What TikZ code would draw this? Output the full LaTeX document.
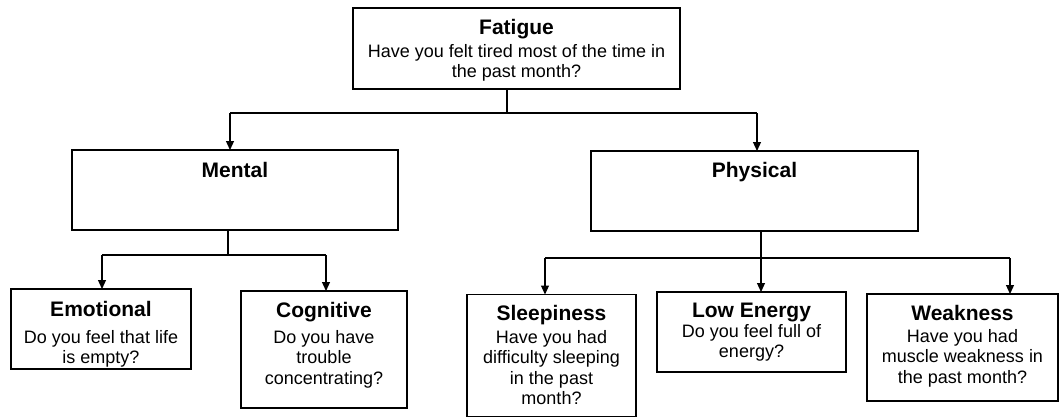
\documentclass[tikz,border=0pt]{standalone}
\usepackage{fontspec}
\setmainfont{Liberation Sans}
\usetikzlibrary{arrows.meta}
\begin{document}
\begin{tikzpicture}[x=1pt,y=-1pt,
  box/.style={draw=black, line width=1.6pt, inner sep=0pt, outer sep=0pt, fill=white},
  ttl/.style={anchor=base, inner sep=0pt, font=\fontsize{21}{24}\selectfont\bfseries},
  bdy/.style={anchor=base, inner sep=0pt, align=center, font=\fontsize{18}{20.5}\selectfont},
  con/.style={line width=1.2pt},
  arr/.style={con, -{Triangle[length=9pt,width=8pt]}}]
\useasboundingbox (0,0) rectangle (1060,418);
% boxes
\node[box, minimum width=327pt, minimum height=81pt] (fat) at (516.5,48.5) {};
\node[box, minimum width=326pt, minimum height=80pt] (men) at (235,190) {};
\node[box, minimum width=327pt, minimum height=80pt] (phy) at (754.5,191) {};
\node[box, minimum width=180pt, minimum height=80pt] (emo) at (101,329) {};
\node[box, minimum width=166pt, minimum height=117pt] (cog) at (324,349.5) {};
\node[box, minimum width=169pt, minimum height=122pt] (slp) at (551.5,355.5) {};
\node[box, minimum width=189pt, minimum height=80pt] (low) at (751.5,332) {};
\node[box, minimum width=191pt, minimum height=107pt] (wea) at (962.5,347.5) {};
% titles
\node[ttl] (fatT) at (516.5,34) {Fatigue};
\node[ttl] (menT) at (235,177) {Mental};
\node[ttl] (phyT) at (754.5,177) {Physical};
\node[ttl] (emoT) at (101,316) {Emotional};
\node[ttl] (cogT) at (324,317) {Cognitive};
\node[ttl] (slpT) at (551.5,320) {Sleepiness};
\node[ttl] (lowT) at (751.5,317) {Low Energy};
\node[ttl] (weaT) at (962.5,320) {Weakness};
% bodies (base = baseline of last line)
\node[bdy] (fatB) at (516.5,77.5) {Have you felt tired most of the time in\\the past month?};
\node[bdy] (emoB) at (101,363.5) {Do you feel that life\\is empty?};
\node[bdy] (cogB) at (324,384) {Do you have\\trouble\\concentrating?};
\node[bdy] (slpB) at (551.5,404.5) {Have you had\\difficulty sleeping\\in the past\\month?};
\node[bdy] (lowB) at (751.5,357.5) {Do you feel full of\\energy?};
\node[bdy] (weaB) at (962.5,383) {Have you had\\muscle weakness in\\the past month?};
% junctions
\coordinate (j1) at (507,113);
\coordinate (j1l) at (230,113);
\coordinate (j1r) at (757,113);
\coordinate (j2) at (228,255);
\coordinate (j2l) at (102,255);
\coordinate (j2r) at (326,255);
\coordinate (j3) at (761,258);
\coordinate (j3l) at (545,258);
\coordinate (j3r) at (1010,258);
% connectors
\draw[con] (fat.south -| j1) -- (j1);
\draw[con] (j1l) -- (j1r);
\draw[arr] (j1l) -- (men.north -| j1l);
\draw[arr] (j1r) -- (phy.north -| j1r);
\draw[con] (men.south -| j2) -- (j2);
\draw[con] (j2l) -- (j2r);
\draw[arr] (j2l) -- (emo.north -| j2l);
\draw[arr] (j2r) -- (cog.north -| j2r);
\draw[arr] (phy.south -| j3) -- (low.north -| j3);
\draw[con] (j3l) -- (j3r);
\draw[arr] (j3l) -- (slp.north -| j3l);
\draw[arr] (j3r) -- (wea.north -| j3r);
\end{tikzpicture}
\end{document}
